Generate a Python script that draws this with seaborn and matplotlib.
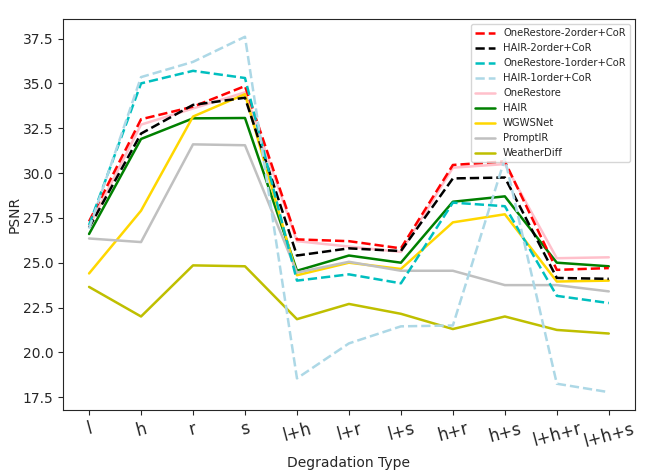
import numpy as np
import pandas as pd
import matplotlib
matplotlib.use("Agg")
import matplotlib.pyplot as plt
import seaborn as sns

degradations = ['l', 'h', 'r', 's', 'l+h', 'l+r', 'l+s', 'h+r', 'h+s', 'l+h+r', 'l+h+s']

onerestore_2order_cor = [27.3, 33.0, 33.7, 34.85, 26.3, 26.2, 25.8, 30.45, 30.65, 24.6, 24.7]
hair_2order_cor = [26.95, 32.2, 33.8, 34.2, 25.4, 25.8, 25.65, 29.7, 29.75, 24.15, 24.1]
onerestore_1order_cor = [27.1, 35.0, 35.7, 35.3, 24.0, 24.35, 23.85, 28.35, 28.15, 23.15, 22.75]
hair_1order_cor = [26.9, 35.35, 36.2, 37.6, 18.55, 20.5, 21.45, 21.5, 30.8, 18.25, 17.78]
onerestore = [27.0, 32.7, 33.6, 34.5, 26.2, 25.9, 25.6, 30.3, 30.5, 25.25, 25.3]
hair = [26.6, 31.9, 33.05, 33.07, 24.55, 25.4, 25.0, 28.4, 28.7, 25.0, 24.8]
wgwsnet = [24.4, 27.9, 33.15, 34.4, 24.3, 25.0, 24.65, 27.25, 27.7, 23.95, 24.0]
promptir = [26.35, 26.15, 31.6, 31.55, 24.45, 25.05, 24.55, 24.55, 23.75, 23.75, 23.4]
weatherdiff = [23.65, 22.0, 24.85, 24.8, 21.85, 22.7, 22.15, 21.3, 22.0, 21.25, 21.05]

series = [
    ('OneRestore-2order+CoR', onerestore_2order_cor, 'red', '--'),
    ('HAIR-2order+CoR', hair_2order_cor, 'black', '--'),
    ('OneRestore-1order+CoR', onerestore_1order_cor, 'c', '--'),
    ('HAIR-1order+CoR', hair_1order_cor, 'lightblue', '--'),
    ('OneRestore', onerestore, 'pink', '-'),
    ('HAIR', hair, 'green', '-'),
    ('WGWSNet', wgwsnet, 'gold', '-'),
    ('PromptIR', promptir, 'silver', '-'),
    ('WeatherDiff', weatherdiff, 'y', '-'),
]

sns.set_style("ticks")
plt.rcParams['font.family'] = ['DejaVu Sans']

fig, ax = plt.subplots(figsize=(6.64, 4.75), dpi=100)
fig.subplots_adjust(left=0.095, right=0.956, top=0.96, bottom=0.137)

x = np.arange(len(degradations))
handles = {}
# solid lines first, dashed on top
for name, vals, color, ls in sorted(series, key=lambda s: s[3] == '--'):
    df = pd.DataFrame({'x': x, 'psnr': vals})
    sns.lineplot(data=df, x='x', y='psnr', color=color, linestyle=ls,
                 linewidth=1.8, ax=ax, label=name)
    handles[name] = ax.get_lines()[-1]

ax.legend([handles[s[0]] for s in series], [s[0] for s in series],
          loc='upper right', fontsize=7.2)

ax.set_xticks(x)
ax.set_xticklabels(degradations, rotation=15, fontsize=12)
ax.set_xlabel('Degradation Type', fontsize=10)
ax.set_ylabel('PSNR', fontsize=10, labelpad=1)
ax.tick_params(axis='y', labelsize=10)

fig.savefig('out.png', dpi=100)
